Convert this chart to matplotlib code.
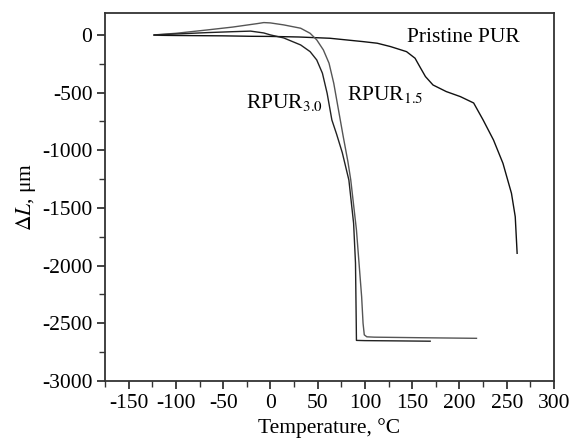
import numpy as np
import matplotlib.pyplot as plt
from matplotlib.ticker import MultipleLocator

plt.rcParams['font.family'] = ['Liberation Serif', 'DejaVu Serif']
plt.rcParams['mathtext.fontset'] = 'stix'
plt.rcParams['axes.unicode_minus'] = False

# Pristine PUR
pur_x = [-123, -100, -50, -20, 0, 30, 63, 98, 113, 127, 144, 153, 158, 164, 172, 186, 201, 215, 225, 236, 246, 255, 259, 261]
pur_y = [-3, -5, -8, -12, -13, -18, -29, -58, -72, -101, -145, -202, -275, -361, -434, -491, -535, -590, -737, -911, -1113, -1373, -1576, -1893]

# RPUR 1.5
r15_x = [-123, -100, -67, -40, -14, -7, 0, 14, 32, 42, 49, 56, 62, 67, 72, 77, 82, 85, 91, 96.5, 98, 99.3, 102, 110, 160, 218]
r15_y = [0, 14, 43, 68, 98, 107, 104, 87, 58, 14, -43, -130, -245, -419, -650, -880, -1100, -1258, -1690, -2270, -2500, -2600, -2617, -2620, -2625, -2630]

# RPUR 3.0
r30_x = [-123, -100, -67, -40, -21, -7, 0, 14, 32, 42, 49, 55, 60, 65, 70, 76, 83, 88, 90, 90.8, 91, 100, 130, 169]
r30_y = [0, 8, 20, 28, 33, 17, 0, -26, -87, -145, -217, -332, -506, -737, -860, -1020, -1258, -1633, -1978, -2500, -2648, -2650, -2652, -2655]

fig = plt.figure(figsize=(5.78, 4.41), dpi=100)
ax = fig.add_axes([105/578, 1 - 381/441, 449/578, 368/441])

ax.plot(pur_x, pur_y, color='#111111', lw=1.0)
ax.plot(r15_x, r15_y, color='#555555', lw=1.0)
ax.plot(r30_x, r30_y, color='#222222', lw=1.0)

ax.set_xlim(-175, 300)
ax.set_ylim(-3000, 190)
ax.set_xticks(np.arange(-150, 301, 50))
ax.xaxis.set_minor_locator(MultipleLocator(25))
ax.yaxis.set_major_locator(MultipleLocator(500))
ax.yaxis.set_minor_locator(MultipleLocator(250))

for s in ax.spines.values():
    s.set_linewidth(1.3)
    s.set_color('#333333')
ax.tick_params(which='major', length=6, width=1.3, color='#333333', labelsize=15.5, pad=3)
ax.tick_params(which='minor', length=4, width=1.0, color='#333333')

ax.set_xlabel('Temperature, °C', fontsize=15.5, labelpad=4)
ax.set_ylabel(r'$\Delta L$, μm', fontsize=15.5, labelpad=3)

ax.text(145, -26, 'Pristine PUR', fontsize=15.5, va='center', ha='left')
ax.text(81, -520, r'RPUR$_{\mathrm{1.5}}$', fontsize=15.5, va='center', ha='left')
ax.text(-26, -590, r'RPUR$_{\mathrm{3.0}}$', fontsize=15.5, va='center', ha='left')

fig.savefig('out.png', dpi=100)
